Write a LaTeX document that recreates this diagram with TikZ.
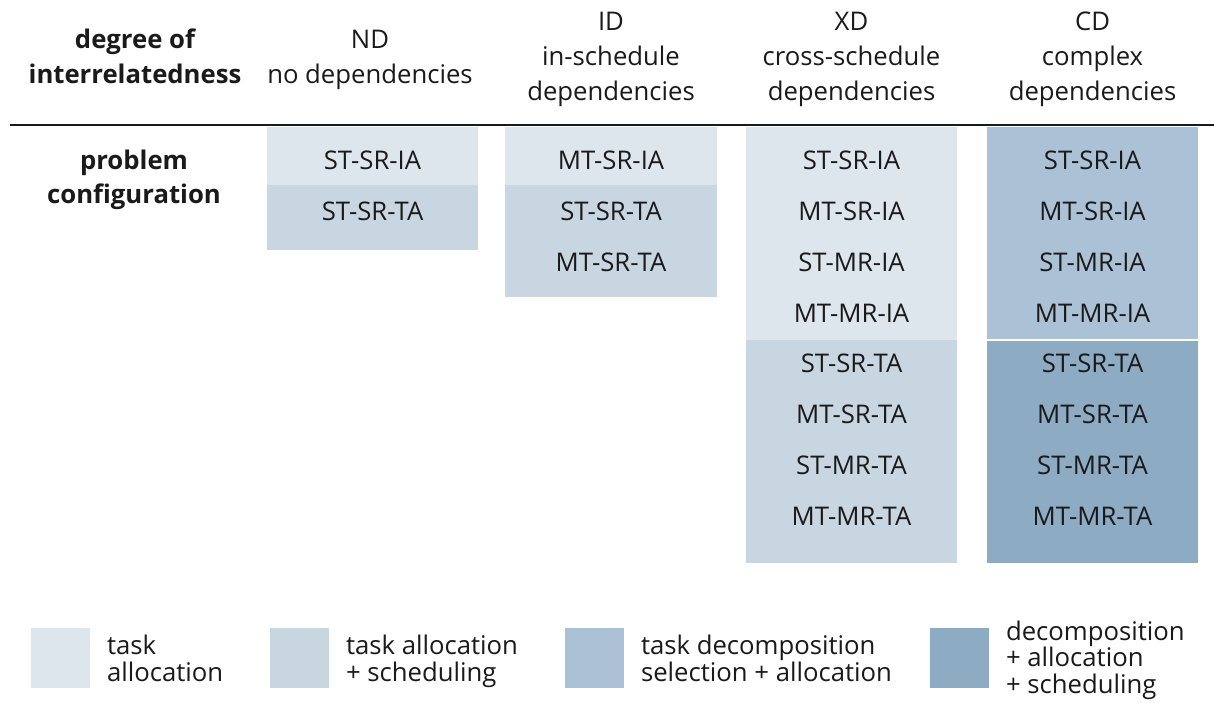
\documentclass[tikz,border=0pt]{standalone}
\usepackage{fontspec}
\setmainfont{Open Sans}
\definecolor{cA}{HTML}{DDE5ED}
\definecolor{cB}{HTML}{C8D6E1}
\definecolor{cC}{HTML}{ABC1D5}
\definecolor{cD}{HTML}{8EABC4}
\definecolor{txt}{HTML}{1A1A1A}
\begin{document}
\begin{tikzpicture}[x=1pt,y=-1pt,
  every node/.style={inner sep=0pt,outer sep=0pt,text=txt,font=\fontsize{25.7}{35}\selectfont},
  lab/.style={anchor=base},
  boldlab/.style={anchor=base,font=\fontsize{25.7}{35}\selectfont\bfseries},
  leg/.style={anchor=base west}]
\useasboundingbox (0,0) rectangle (1214,702);
\fill[white] (0,0) rectangle (1214,702);
% header rule
\draw[line width=2.4pt,txt] (10,125) -- (1214,125);
% header texts
\node[boldlab] (h0a) at (135,48) {degree of};
\node[boldlab] (h0b) at (135,83) {interrelatedness};
\node[lab] (h1a) at (370,48) {ND};
\node[lab] (h1b) at (370,83) {no dependencies};
\node[lab] (h2a) at (611,30.5) {ID};
\node[lab] (h2b) at (611,65.5) {in-schedule};
\node[lab] (h2c) at (611,100.5) {dependencies};
\node[lab] (h3a) at (851.5,30.5) {XD};
\node[lab] (h3b) at (851.5,65.5) {cross-schedule};
\node[lab] (h3c) at (851.5,100.5) {dependencies};
\node[lab] (h4a) at (1092.5,30.5) {CD};
\node[lab] (h4b) at (1092.5,65.5) {complex};
\node[lab] (h4c) at (1092.5,100.5) {dependencies};
\node[boldlab] (pa) at (134,169) {problem};
\node[boldlab] (pb) at (134,203) {configuration};
% boxes
\fill[cA] (267,127) rectangle (478,185);
\fill[cB] (267,185) rectangle (478,250);
\fill[cA] (505,127) rectangle (717,185);
\fill[cB] (505,185) rectangle (717,297);
\fill[cA] (746,127) rectangle (957,340);
\fill[cB] (746,340) rectangle (957,563);
\fill[cC] (987,127) rectangle (1198,340);
\fill[cD] (987,340) rectangle (1198,563);
\draw[white,line width=1.5pt] (987,340) -- (1198,340);
% ND
\node[lab] (nd1) at (372.5,169.5) {ST-SR-IA};
\node[lab] (nd2) at (372.5,220.5) {ST-SR-TA};
% ID
\node[lab] (id1) at (611,169.5) {MT-SR-IA};
\node[lab] (id2) at (611,220.5) {ST-SR-TA};
\node[lab] (id3) at (611,271) {MT-SR-TA};
% XD and CD
\foreach \t [count=\i from 0] in {ST-SR-IA,MT-SR-IA,ST-MR-IA,MT-MR-IA,ST-SR-TA,MT-SR-TA,ST-MR-TA,MT-MR-TA}{
  \node[lab] (xd\i) at (851.5,169.5+50.85*\i) {\t};
  \node[lab] (cd\i) at (1092.5,169.5+50.85*\i) {\t};
}
% legend
\fill[cA] (31,628) rectangle (90,688);
\fill[cB] (270,628) rectangle (329,688);
\fill[cC] (565,628) rectangle (624,688);
\fill[cD] (930,628) rectangle (989,688);
\node[leg] (l1a) at (107,654) {task};
\node[leg] (l1b) at (107,681) {allocation};
\node[leg] (l2a) at (346,654) {task allocation};
\node[leg] (l2b) at (346,681) {+ scheduling};
\node[leg] (l3a) at (641,654) {task decomposition};
\node[leg] (l3b) at (641,681) {selection + allocation};
\node[leg] (l4a) at (1006,640) {decomposition};
\node[leg] (l4b) at (1006,666.5) {+ allocation};
\node[leg] (l4c) at (1006,693) {+ scheduling};
\end{tikzpicture}
\end{document}
